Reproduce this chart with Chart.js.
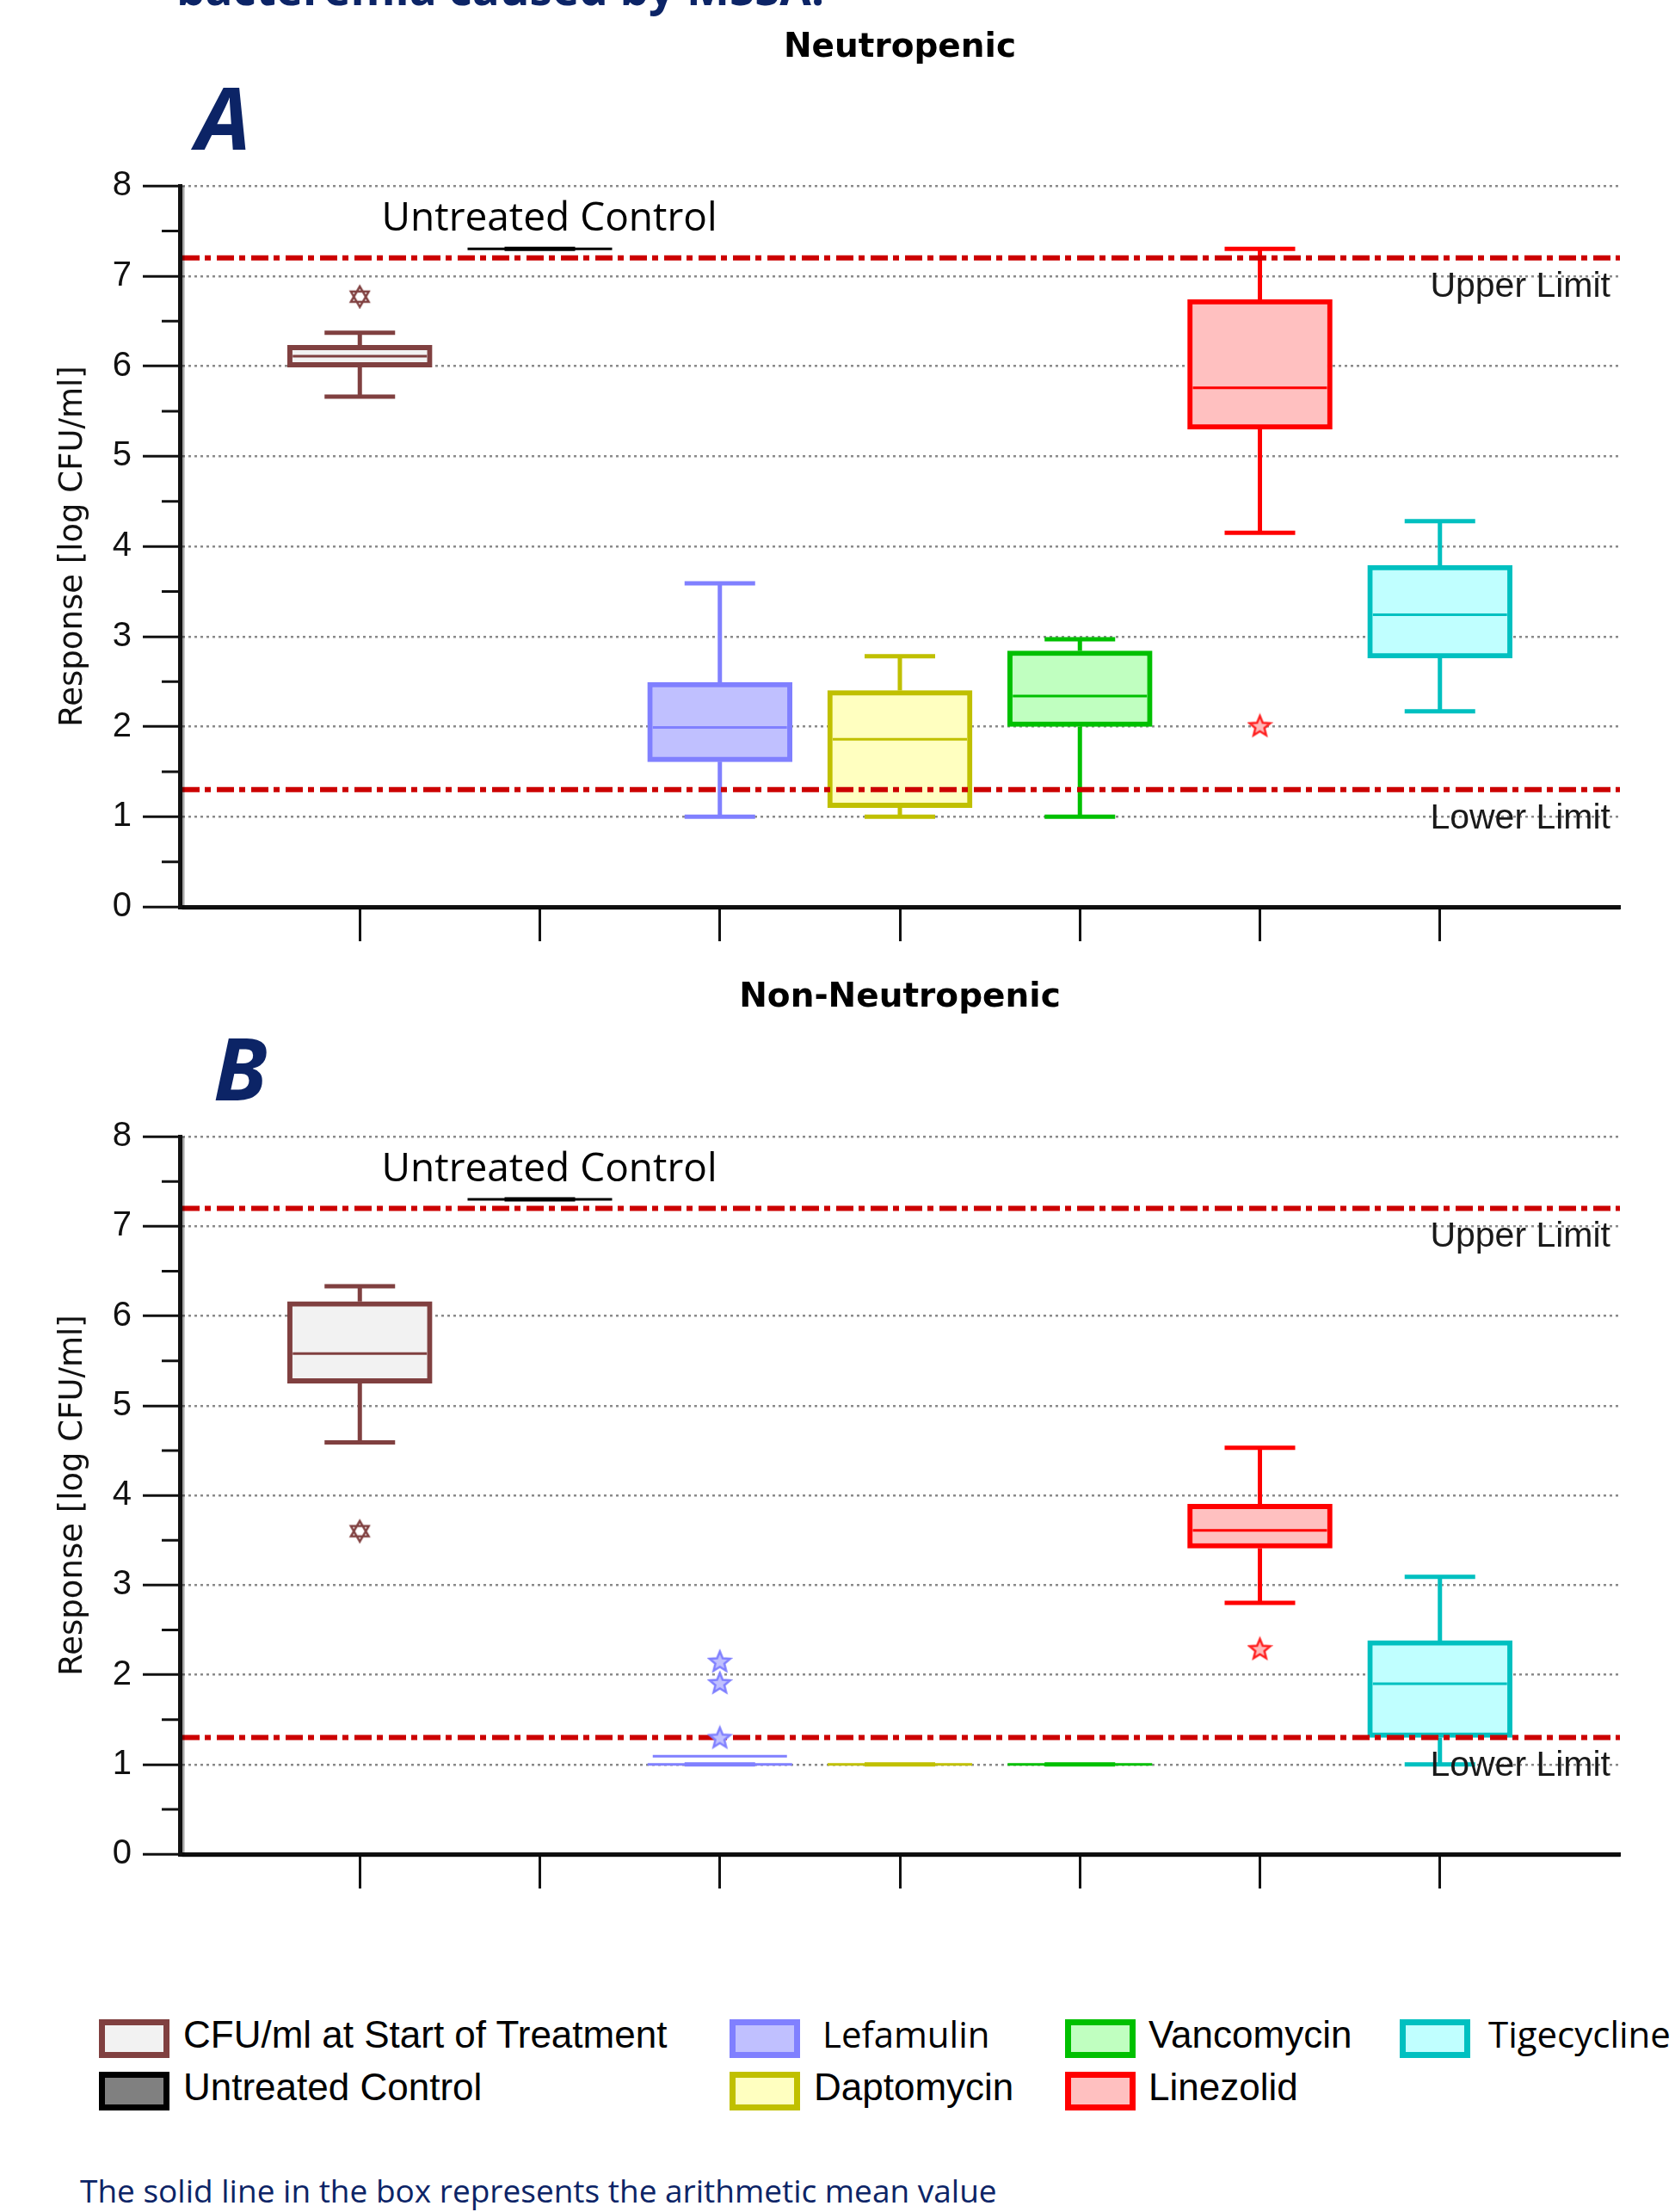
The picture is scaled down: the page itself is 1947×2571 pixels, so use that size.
<!DOCTYPE html>
<html>
<head>
<meta charset="utf-8">
<title>Neutropenic / Non-Neutropenic box plots</title>
<script src="https://cdn.jsdelivr.net/npm/chart.js@4.4.1/dist/chart.umd.min.js"></script>
<style>
	html, body { margin: 0; padding: 0; background: #fff; }
	#page { position: relative; width: 1947px; height: 2571px; overflow: hidden; }
	.txt { position: absolute; white-space: nowrap; line-height: 1; }
	.panel { position: absolute; left: 0; width: 1947px; }
	.navy { color: #0c2466; }
	.title { font-family: "DejaVu Sans"; font-weight: bold; font-size: 39px; color: #000; width: 1947px; left: 0; text-align: center; padding-left: 145px; box-sizing: border-box; }
	.letter { font-family: "Open Sans"; font-weight: bold; font-style: italic; font-size: 101px; }
	.swatch { position: absolute; width: 82px; height: 45px; border: 7px solid; box-sizing: border-box; }
	.lg { font-family: "Liberation Sans"; font-size: 44px; color: #000; }
	.lg2 { font-family: "Open Sans"; font-size: 42px; color: #000; }
</style>
</head>
<body>
<div id="page">
	<div class="panel" style="top:0;height:1120px"><canvas id="chartA"></canvas></div>
	<div class="panel" style="top:1105px;height:1116px"><canvas id="chartB"></canvas></div>

	<div class="txt navy" style="left:205px;top:-41px;font-family:'Open Sans';font-weight:bold;font-size:53px">bacteremia caused by MSSA.</div>
	<div class="txt title" style="top:33px">Neutropenic</div>
	<div class="txt letter navy" style="left:228px;top:85px">A</div>
	<div class="txt title" style="top:1137px">Non-Neutropenic</div>
	<div class="txt letter navy" style="left:248px;top:1190px">B</div>

	<div id="legend"></div>

	<div class="txt navy" style="left:93px;top:2527px;font-family:'Open Sans';font-size:37px">The solid line in the box represents the arithmetic mean value</div>
</div>

<script>
// categories along the x axis
const categories = ['CFU/ml at Start of Treatment', 'Untreated Control', 'Lefamulin', 'Daptomycin', 'Vancomycin', 'Linezolid', 'Tigecycline'];

// panel A: neutropenic (log CFU/ml)
const neutMin  = [5.66, 7.30, 1.00, 1.00, 1.00, 4.15, 2.17];
const neutQ1   = [5.99, 7.30, 1.61, 1.10, 2.00, 5.30, 2.76];
const neutMean = [6.11, 7.30, 1.99, 1.86, 2.34, 5.76, 3.24];
const neutQ3   = [6.23, 7.30, 2.49, 2.40, 2.84, 6.74, 3.79];
const neutMax  = [6.37, 7.30, 3.59, 2.78, 2.97, 7.30, 4.28];
const neutOutlierCat = [0, 5];
const neutOutlierVal = [6.78, 2.01];

// panel B: non-neutropenic
const nonMin  = [4.59, 7.30, 1.00, 1.00, 1.00, 2.80, 1.00];
const nonQ1   = [5.25, 7.30, 1.00, 1.00, 1.00, 3.41, 1.30];
const nonMean = [5.58, 7.30, 1.09, 1.00, 1.00, 3.61, 1.90];
const nonQ3   = [6.16, 7.30, 1.00, 1.00, 1.00, 3.90, 2.38];
const nonMax  = [6.33, 7.30, 1.00, 1.00, 1.00, 4.53, 3.09];
const nonOutlierCat = [0, 2, 2, 2, 5];
const nonOutlierVal = [3.61, 2.15, 1.91, 1.30, 2.29];

// reference limits
const upperLimit = 7.2;
const lowerLimit = 1.3;

// y axis
const yMin = 0;
const yMax = 8;
const yMinorTicks = [0.5, 1.5, 2.5, 3.5, 4.5, 5.5, 6.5, 7.5];

// styling
const lineColors = ['#804040', '#000000', '#8080ff', '#c0c000', '#00c000', '#ff0000', '#00c0c0'];
const fillColors = ['#f2f2f2', '#808080', '#c0c0ff', '#ffffc0', '#c0ffc0', '#ffc0c0', '#c0ffff'];
const xLabels = [''].concat(categories, [' ']);

(function () {
	'use strict';

	function starImage(color, fill, sixPoint) {
		var c = document.createElement('canvas');
		c.width = 30; c.height = 30;
		var g = c.getContext('2d');
		g.translate(15, 16);
		g.lineWidth = 2.5;
		g.strokeStyle = color;
		g.fillStyle = fill;
		g.beginPath();
		if (sixPoint) {
			for (var t = 0; t < 2; t++) {
				for (var k = 0; k < 3; k++) {
					var a = -Math.PI / 2 + t * Math.PI / 3 + k * 2 * Math.PI / 3;
					var px = Math.cos(a) * 12, py = Math.sin(a) * 12;
					if (k === 0) g.moveTo(px, py); else g.lineTo(px, py);
				}
				g.closePath();
			}
		} else {
			for (var j = 0; j < 10; j++) {
				var r = j % 2 ? 5.5 : 12.5;
				var b = -Math.PI / 2 + j * Math.PI / 5;
				if (j === 0) g.moveTo(Math.cos(b) * r, Math.sin(b) * r);
				else g.lineTo(Math.cos(b) * r, Math.sin(b) * r);
			}
			g.closePath();
		}
		g.fill();
		g.stroke();
		return c;
	}

	var outlierStyles = [
		starImage('#804040', '#ffffff', true),
		null,
		starImage('#8080ff', '#c0c0ff', false),
		null, null,
		starImage('#ff2020', '#ffb8b8', false),
		null
	];

	var boxExtras = {
		id: 'boxExtras',
		afterDatasetDraw: function (chart, args, opts) {
			if (args.meta.type !== 'bar') return;
			var p = opts.panel;
			var ctx = chart.ctx, x = chart.scales.x, y = chart.scales.y, area = chart.chartArea;
			ctx.save();
			args.meta.data.forEach(function (bar, i) {
				var cx = bar.x, hw = bar.width / 2, cap = 41;
				var yHi = y.getPixelForValue(p.max[i]), yQ3 = y.getPixelForValue(p.q3[i]);
				var yQ1 = y.getPixelForValue(p.q1[i]), yLo = y.getPixelForValue(p.min[i]);
				var yMean = y.getPixelForValue(p.mean[i]);
				ctx.strokeStyle = lineColors[i];
				ctx.lineWidth = 5;
				ctx.beginPath();
				if (yHi < yQ3 - 1) { ctx.moveTo(cx, yQ3); ctx.lineTo(cx, yHi); }
				if (yLo > yQ1 + 1) { ctx.moveTo(cx, yQ1); ctx.lineTo(cx, yLo); }
				ctx.moveTo(cx - cap, yHi); ctx.lineTo(cx + cap, yHi);
				ctx.moveTo(cx - cap, yLo); ctx.lineTo(cx + cap, yLo);
				ctx.stroke();
				ctx.lineWidth = 3;
				ctx.beginPath();
				ctx.moveTo(cx - hw + 6, yMean); ctx.lineTo(cx + hw - 6, yMean);
				if (Math.abs(yQ3 - yQ1) < 2) { ctx.moveTo(cx - hw, yQ1); ctx.lineTo(cx + hw, yQ1); }
				ctx.stroke();
			});

			// limit lines
			ctx.strokeStyle = '#cc0000';
			ctx.lineWidth = 6;
			ctx.setLineDash([20, 6, 7, 7]);
			[upperLimit, lowerLimit].forEach(function (v) {
				var py = y.getPixelForValue(v);
				ctx.beginPath();
				ctx.moveTo(area.left + 3, py);
				ctx.lineTo(area.right, py);
				ctx.stroke();
			});
			ctx.setLineDash([]);

			ctx.fillStyle = '#1a1a1a';
			ctx.font = '41px "Liberation Sans"';
			ctx.textAlign = 'right';
			ctx.textBaseline = 'alphabetic';
			ctx.fillText('Upper Limit', area.right - 11, y.getPixelForValue(upperLimit) + 45);
			ctx.fillText('Lower Limit', area.right - 11, y.getPixelForValue(lowerLimit) + 45);

			ctx.fillStyle = '#000';
			ctx.font = '46px "Open Sans"';
			ctx.textAlign = 'center';
			ctx.fillText(categories[1], x.getPixelForValue(categories[1]) + 11, y.getPixelForValue(p.max[1]) - 21);
			ctx.restore();
		},
		afterDraw: function (chart) {
			var ctx = chart.ctx, y = chart.scales.y, area = chart.chartArea;
			ctx.save();
			ctx.strokeStyle = '#111';
			ctx.lineWidth = 3;
			ctx.beginPath();
			yMinorTicks.forEach(function (v) {
				var py = y.getPixelForValue(v);
				ctx.moveTo(area.left - 21, py);
				ctx.lineTo(area.left, py);
			});
			ctx.stroke();
			// soft grey shadow along both axes
			ctx.strokeStyle = 'rgba(0,0,0,0.35)';
			ctx.lineWidth = 3;
			ctx.beginPath();
			ctx.moveTo(area.left + 4, area.top);
			ctx.lineTo(area.left + 4, area.bottom + 2);
			ctx.lineTo(area.right, area.bottom + 2);
			ctx.stroke();
			ctx.restore();
		}
	};

	function build(canvasId, p) {
		var boxes = categories.map(function (c, i) {
			return { x: c, y: [p.q1[i], p.q3[i]] };
		});
		var outliers = p.outCat.map(function (c, k) {
			return { x: categories[c], y: p.outVal[k] };
		});
		return new Chart(document.getElementById(canvasId), {
			type: 'bar',
			data: {
				labels: xLabels,
				datasets: [
					{
						type: 'bar',
						data: boxes,
						order: 2,
						backgroundColor: fillColors,
						borderColor: lineColors,
						borderWidth: 6,
						borderSkipped: false,
						barThickness: 168,
						grouped: false
					},
					{
						type: 'scatter',
						data: outliers,
						order: 1,
						pointStyle: p.outCat.map(function (c) { return outlierStyles[c]; }),
						pointRadius: 13
					}
				]
			},
			options: {
				responsive: true,
				maintainAspectRatio: false,
				animation: false,
				events: [],
				layout: { padding: { top: 216, right: 64, left: 0, bottom: 0 } },
				plugins: {
					legend: { display: false },
					tooltip: { enabled: false },
					boxExtras: { panel: p }
				},
				scales: {
					x: {
						type: 'category',
						offset: false,
						afterFit: function (s) { s.height = 66; },
						ticks: { display: false },
						grid: {
							offset: false,
							drawOnChartArea: false,
							tickLength: 40,
							tickWidth: 3,
							tickColor: function (c) { return (c.index === 0 || c.index === xLabels.length - 1) ? 'rgba(0,0,0,0)' : '#111'; }
						},
						border: { width: 5, color: '#111' }
					},
					y: {
						min: yMin,
						max: yMax,
						afterFit: function (s) { s.width = 209; },
						ticks: {
							stepSize: 1,
							padding: 13,
							color: '#111',
							font: { family: 'Liberation Sans', size: 40 }
						},
						grid: {
							color: function (c) { return c.tick && c.tick.value === 0 ? 'rgba(0,0,0,0)' : '#8a8a8a'; },
							lineWidth: 2.5,
							tickLength: 43,
							tickWidth: 3,
							tickColor: '#111'
						},
						border: { width: 5, color: '#111', dash: [3, 4] },
						title: {
							display: true,
							text: 'Response [log CFU/ml]',
							color: '#111',
							font: { family: 'DejaVu Sans', size: 37 },
							padding: { top: 63, bottom: 0 }
						}
					}
				}
			},
			plugins: [boxExtras]
		});
	}

	function legend() {
		var items = [
			{ i: 0, bx: 115, tx: 213, row: 0, cls: 'lg' },
			{ i: 1, bx: 115, tx: 213, row: 1, cls: 'lg' },
			{ i: 2, bx: 848, tx: 956, row: 0, cls: 'lg2' },
			{ i: 3, bx: 848, tx: 946, row: 1, cls: 'lg' },
			{ i: 4, bx: 1238, tx: 1335, row: 0, cls: 'lg' },
			{ i: 5, bx: 1238, tx: 1335, row: 1, cls: 'lg' },
			{ i: 6, bx: 1627, tx: 1730, row: 0, cls: 'lg2' }
		];
		var host = document.getElementById('legend');
		items.forEach(function (it) {
			var top = it.row ? 2408 : 2347;
			var sw = document.createElement('div');
			sw.className = 'swatch';
			sw.style.left = it.bx + 'px';
			sw.style.top = top + 'px';
			sw.style.borderColor = lineColors[it.i];
			sw.style.background = fillColors[it.i];
			host.appendChild(sw);
			var t = document.createElement('div');
			t.className = 'txt ' + it.cls;
			t.textContent = categories[it.i];
			t.style.left = it.tx + 'px';
			t.style.top = (top + 33 - (it.cls === 'lg' ? 37.2 : 37.3)) + 'px';
			host.appendChild(t);
		});
	}

	build('chartA', { min: neutMin, q1: neutQ1, mean: neutMean, q3: neutQ3, max: neutMax, outCat: neutOutlierCat, outVal: neutOutlierVal });
	build('chartB', { min: nonMin, q1: nonQ1, mean: nonMean, q3: nonQ3, max: nonMax, outCat: nonOutlierCat, outVal: nonOutlierVal });
	legend();
})();
</script>
</body>
</html>
